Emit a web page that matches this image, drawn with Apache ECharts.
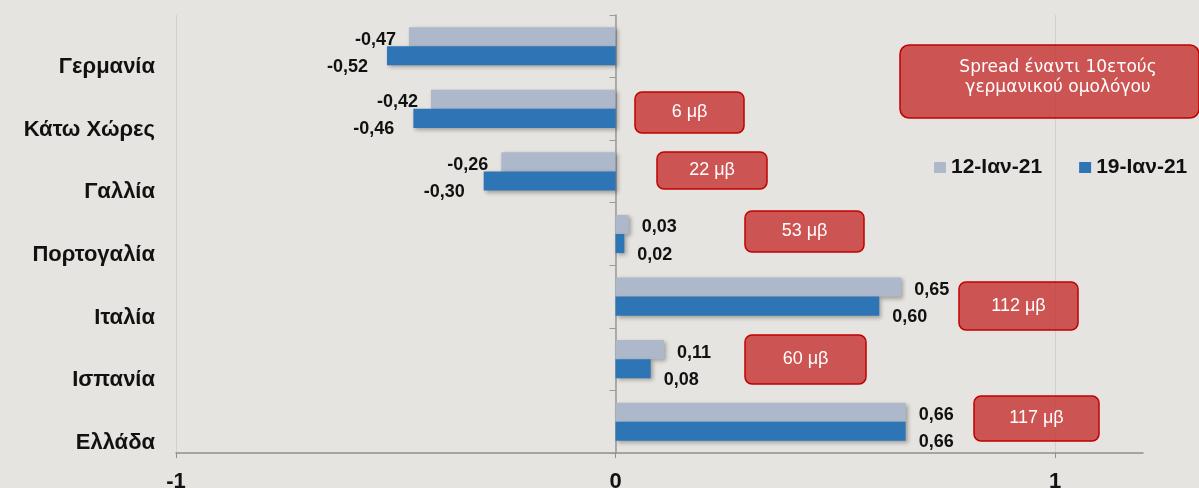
<!DOCTYPE html>
<html>
<head>
<meta charset="utf-8">
<script src="https://cdn.jsdelivr.net/npm/echarts@6/dist/echarts.min.js"></script>
<style>
  html, body { margin: 0; padding: 0; background: #e6e4e0; }
  #main { width: 1199px; height: 488px; }
</style>
</head>
<body>
<div id="main"></div>
<script>
// δεδομένα
var categories = ['Γερμανία', 'Κάτω Χώρες', 'Γαλλία', 'Πορτογαλία', 'Ιταλία', 'Ισπανία', 'Ελλάδα'];
var seriesNames = ['12-Ιαν-21', '19-Ιαν-21'];
var jan12 = [-0.47, -0.42, -0.26, 0.03, 0.65, 0.11, 0.66];
var jan19 = [-0.52, -0.46, -0.30, 0.02, 0.60, 0.08, 0.66];
var spreadTitle = 'Spread έναντι 10ετούς\nγερμανικού ομολόγου';
var spreads = ['', '6 μβ', '22 μβ', '53 μβ', '112 μβ', '60 μβ', '117 μβ'];
var xTicks = [-1, 0, 1];

var FONT = '"Liberation Sans", Arial, sans-serif';

function fmt(v) {
	return v.toFixed(2).replace('.', ',');
}

// label αριστερά για αρνητικές τιμές
function barData(values, dy, negDist) {
	return values.map(function (v) {
		return {
			value: v,
			label: {
				position: v < 0 ? 'left' : 'right',
				distance: v < 0 ? negDist : 13,
				offset: [0, dy]
			}
		};
	});
}

// κουτιά spread (θέσεις σε pixel)
var boxRects = [
	null,
	[635, 92, 109, 41],
	[657, 152, 110, 37],
	[745, 211, 119, 41],
	[959, 282, 119, 48],
	[745, 335, 121, 49],
	[974, 396, 125, 45]
];
var boxFill = 'rgba(199,59,57,0.85)';
var boxStroke = '#c00000';

var graphics = [];
graphics.push({
	type: 'rect',
	shape: { x: 900, y: 45, width: 299, height: 73, r: 9 },
	style: { fill: boxFill, stroke: boxStroke, lineWidth: 1.5 },
	z: 10
});
graphics.push({
	type: 'text',
	x: 1058, y: 78,
	style: {
		text: spreadTitle, fill: '#fff', font: '17px "DejaVu Sans", sans-serif',
		align: 'center', verticalAlign: 'middle', lineHeight: 20
	},
	z: 11
});
spreads.forEach(function (s, i) {
	var r = boxRects[i];
	if (!s || !r) return;
	graphics.push({
		type: 'rect',
		shape: { x: r[0], y: r[1], width: r[2], height: r[3], r: 7 },
		style: { fill: boxFill, stroke: boxStroke, lineWidth: 1.5 },
		z: 10
	});
	graphics.push({
		type: 'text',
		x: r[0] + r[2] / 2, y: r[1] + r[3] / 2,
		style: {
			text: s, fill: '#fff', font: '18px ' + FONT,
			align: 'center', verticalAlign: 'middle'
		},
		z: 11
	});
});

var chart = echarts.init(document.getElementById('main'));
var option = {
	backgroundColor: '#e6e4e0',
	animation: false,
	grid: { left: 176, right: 56, top: 15, bottom: 35, outerBoundsMode: 'none' },
	legend: {
		data: seriesNames,
		left: 929,
		top: 152,
		itemWidth: 12,
		itemHeight: 11,
		itemGap: 37,
		icon: 'rect',
		textStyle: { fontFamily: FONT, fontSize: 21, fontWeight: 'bold', color: '#111' }
	},
	xAxis: {
		type: 'value',
		min: -1,
		max: 1.2,
		interval: 1,
		axisLine: { show: true, lineStyle: { color: '#8f8f8f', width: 1.5 } },
		axisTick: { show: true, length: 5, customValues: xTicks, lineStyle: { color: '#8f8f8f' } },
		axisLabel: {
			customValues: xTicks,
			margin: 18,
			fontFamily: FONT, fontSize: 22, fontWeight: 'bold', color: '#111'
		},
		splitLine: { show: true, lineStyle: { color: '#d2d0cc' } }
	},
	yAxis: [{
		type: 'category',
		data: categories,
		inverse: true,
		axisLine: { show: false, onZero: false },
		axisTick: { show: false },
		axisLabel: {
			interval: 0,
			showMinLabel: true,
			showMaxLabel: true,
			hideOverlap: false,
			margin: 21,
			lineHeight: 21,
			// οι ετικέτες κάθονται λίγο πιο χαμηλά από το κέντρο
			formatter: function (v) { return '\n\n' + v; },
			fontFamily: FONT, fontSize: 22, fontWeight: 'bold', color: '#111'
		}
	}, {
		type: 'category',
		data: categories,
		inverse: true,
		position: 'left',
		axisLine: { show: true, onZero: true, lineStyle: { color: '#9a9a9a', width: 1.5 } },
		axisTick: { show: true, length: 6, lineStyle: { color: '#9a9a9a' } },
		axisLabel: { show: false }
	}],
	series: [{
		name: seriesNames[0],
		type: 'bar',
		data: barData(jan12, 3, 13),
		barGap: '0%',
		barCategoryGap: '39%',
		itemStyle: {
			color: '#adb9cb',
			shadowColor: 'rgba(0,0,0,0.3)', shadowBlur: 4, shadowOffsetX: 2, shadowOffsetY: 2
		},
		label: {
			show: true,
			formatter: function (p) { return fmt(p.value); },
			fontFamily: FONT, fontSize: 18, fontWeight: 'bold', color: '#111'
		}
	}, {
		name: seriesNames[1],
		type: 'bar',
		data: barData(jan19, 11, 19),
		itemStyle: {
			color: '#2e75b6',
			shadowColor: 'rgba(0,0,0,0.3)', shadowBlur: 4, shadowOffsetX: 2, shadowOffsetY: 2
		},
		label: {
			show: true,
			formatter: function (p) { return fmt(p.value); },
			fontFamily: FONT, fontSize: 18, fontWeight: 'bold', color: '#111'
		}
	}],
	graphic: graphics
};
chart.setOption(option);
</script>
</body>
</html>
